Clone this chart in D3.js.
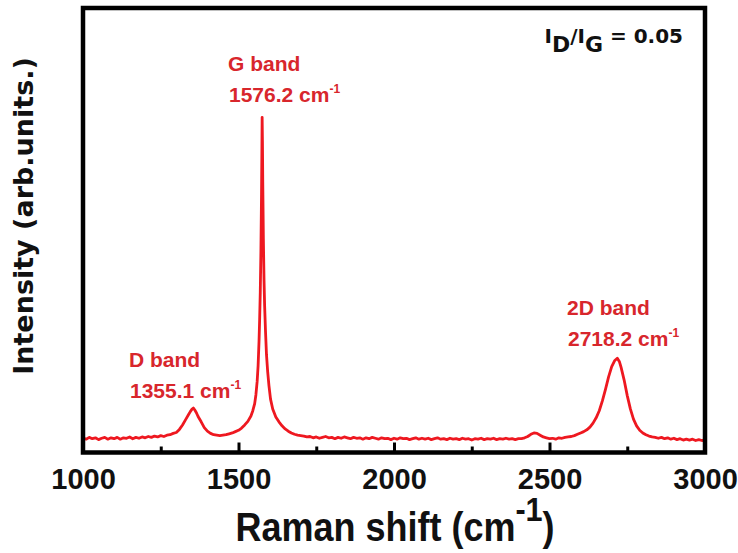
<!DOCTYPE html>
<html><head><meta charset="utf-8">
<script src="https://cdn.jsdelivr.net/npm/d3@7"></script>
<style>body{margin:0;background:#fff}svg{display:block}</style>
</head><body>
<svg id="c" width="738" height="553"></svg>
<script>
// Raman shift (cm-1) and intensity (arb. units)
const ramanShift = [
1000,1010,1020,1030,1040,1050,1060,1070,1080,1090,1100,1110,1120,1130,1140,1150,1160,1170,1180,1190,1200,1210,1220,1230,1240,
1250,1260,1270,1280,1290,1300,1310,1320,1330,1340,1345,1350,1355,1360,1365,1370,1380,1390,1400,1410,1420,1430,1440,1450,1460,1470,1480,1490,1500,1510,1520,1530,1540,1546,1552,1556,1560,1563,1566,1568,1570,1572,1574,1575,1576,1577,1578,1580,1582,1584,1587,1590,1594,1598,1603,1610,1620,1630,1640,1650,1660,1670,1680,1690,1700,
1710,1720,1730,1740,1750,1760,1770,1780,1790,1800,1810,1820,1830,1840,1850,1860,1870,1880,1890,1900,1910,1920,1930,1940,1950,1960,1970,1980,1990,2000,
2010,2020,2030,2040,2050,2060,2070,2080,2090,2100,2110,2120,2130,2140,2150,2160,2170,2180,2190,2200,2210,2220,2230,2240,2250,2260,2270,2280,2290,2300,
2310,2320,2330,2340,2350,2360,2370,2380,2390,2400,2410,2420,2430,2440,2450,2460,2470,2480,2490,2500,2510,2520,2530,2540,2550,2560,2570,2580,2590,2600,
2610,2620,2630,2640,2650,2660,2670,2680,2690,2700,2710,2718,2725,2730,2740,2750,2760,2770,2780,2790,2800,2810,2820,2830,
2840,2850,2860,2870,2880,2890,2900,2910,2920,2930,2940,2950,2960,2970,2980,2990,3000];
const intensity = [
3.3,3.0,3.4,3.1,3.3,2.9,3.2,3.4,3.0,3.3,3.1,3.4,3.0,3.3,3.2,3.5,3.1,3.4,3.2,3.5,3.3,3.6,3.4,3.7,3.5,
3.8,3.6,3.9,4.0,4.3,4.5,5.2,6.2,7.4,8.6,9.2,9.7,10.0,9.5,8.9,8.1,6.9,5.6,4.8,4.3,4.0,3.9,3.8,3.9,4.0,4.2,4.4,4.7,5.0,5.5,6.2,7.0,8.2,9.4,11.0,13.0,16.0,19.5,25,30,36,45,58,66,75.4,70,61,48,39,33,27,22,18,15,12,9.8,8.0,6.9,6.0,5.3,4.8,4.4,4.1,3.9,3.8,
3.7,3.5,3.6,3.3,3.5,3.2,3.4,3.6,3.3,3.4,3.1,3.4,3.2,3.5,3.3,3.1,3.4,3.2,3.3,3.0,3.3,3.1,3.4,3.2,3.0,3.3,3.1,3.2,2.9,3.2,
3.0,3.3,3.1,3.2,2.9,3.1,3.3,3.0,3.2,3.0,3.2,2.9,3.1,3.3,3.0,3.1,2.9,3.2,3.0,3.1,2.9,3.2,3.0,3.1,2.8,3.1,3.0,3.2,2.9,3.1,
3.0,3.2,2.9,3.1,3.0,3.2,3.0,3.1,2.9,3.1,3.1,3.3,3.6,4.1,4.4,4.3,3.9,3.5,3.3,3.1,3.2,3.0,3.3,3.2,3.4,3.5,3.6,3.8,4.1,4.4,
4.7,5.1,5.7,6.6,7.8,9.4,11.6,14.2,17.0,19.3,20.7,21.2,20.4,19.2,16.3,12.8,9.8,7.5,6.0,5.0,4.4,4.0,3.7,3.5,
3.4,3.2,3.4,3.1,3.3,3.0,3.2,2.9,3.1,2.8,3.0,2.8,3.0,2.7,2.9,2.7,2.8];
const xTicks = [1000,1500,2000,2500,3000];
const xMinorTicks = [1250,1750,2250,2750];
const bandNames = ["D band","G band","2D band"];
const bandPositions = ["1355.1","1576.2","2718.2"];
const ratioValue = "0.05";

const svg = d3.select("#c");
const L = 83, R = 705, T = 8, B = 452.5;
const x = d3.scaleLinear().domain([1000,3000]).range([L,R]);
const y = d3.scaleLinear().domain([0,100]).range([B,T]);
const red = "#ee1820", txtRed = "#d8262c";

// spectrum
const pts = ramanShift.map((s,i)=>[s,intensity[i]]);
svg.append("path").datum(pts)
  .attr("d", d3.line().x(d=>x(d[0])).y(d=>y(d[1])))
  .attr("fill","none").attr("stroke",red).attr("stroke-width",2.8)
  .attr("stroke-linejoin","round");

// minor ticks
const minorAxis = d3.axisBottom(x).tickValues(xMinorTicks).tickSize(-6).tickFormat("");
const gMin = svg.append("g").attr("transform",`translate(0,${B})`).call(minorAxis);
gMin.select(".domain").remove();
gMin.selectAll("line").attr("stroke","#000").attr("stroke-width",3);

// major ticks
const axis = d3.axisBottom(x).tickValues(xTicks).tickSize(-10).tickFormat(d3.format("d"));
const gAx = svg.append("g").attr("transform",`translate(0,${B})`).call(axis);
gAx.select(".domain").remove();
gAx.selectAll("line").attr("stroke","#000").attr("stroke-width",3);
gAx.selectAll("text").attr("y",36).attr("dy",0)
  .attr("font-family","Liberation Sans, Arial, sans-serif").attr("font-weight","bold")
  .attr("font-size",29).attr("fill","#111");

// frame
svg.append("rect").attr("x",L).attr("y",T).attr("width",R-L).attr("height",B-T)
  .attr("fill","none").attr("stroke","#000").attr("stroke-width",4.5);

// x title
const xt = svg.append("text").attr("transform","translate(395,541) scale(0.9,1)")
  .attr("text-anchor","middle").attr("font-family","Liberation Sans, Arial, sans-serif")
  .attr("font-weight","bold").attr("font-size",40).attr("fill","#111");
xt.append("tspan").text("Raman shift (cm");
xt.append("tspan").attr("dy",-20).attr("font-size",34).text("-1");
xt.append("tspan").attr("dy",20).text(")");

// y title
svg.append("text").attr("transform","translate(33,216) rotate(-90)")
  .attr("text-anchor","middle").attr("font-family","DejaVu Sans, sans-serif")
  .attr("font-weight","bold").attr("font-size",27).attr("fill","#111")
  .text("Intensity (arb.units.)");

// band labels
const labelAnchor = [[129,367],[228,71],[567,315]];
bandNames.forEach((n,i)=>{
  const [lx,ly] = labelAnchor[i];
  const g = svg.append("g").attr("font-family","Liberation Sans, Arial, sans-serif")
    .attr("font-weight","bold").attr("fill",txtRed).attr("font-size",21);
  g.append("text").attr("x",lx).attr("y",ly).text(n);
  const t = g.append("text").attr("x",lx+1).attr("y",ly+31);
  t.append("tspan").text(bandPositions[i]+" cm");
  t.append("tspan").attr("dy",-9).attr("font-size",12).text("-1");
});

// ratio
const rt = svg.append("text").attr("x",683).attr("y",43).attr("text-anchor","end")
  .attr("font-family","DejaVu Sans, sans-serif").attr("font-weight","bold")
  .attr("font-size",20).attr("fill","#111");
rt.append("tspan").text("I");
rt.append("tspan").attr("dy",9).attr("font-size",22).text("D");
rt.append("tspan").attr("dy",-9).text("/I");
rt.append("tspan").attr("dy",9).attr("font-size",22).text("G");
rt.append("tspan").attr("dy",-9).text(" = "+ratioValue);
</script>
</body></html>
